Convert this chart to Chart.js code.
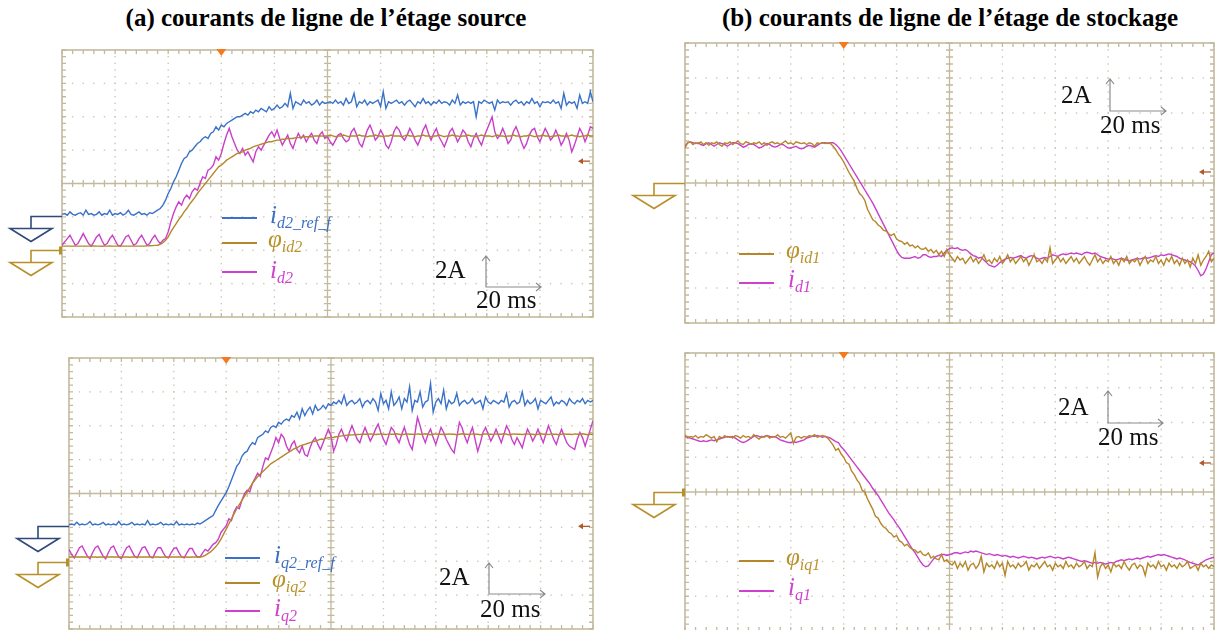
<!DOCTYPE html>
<html>
<head>
<meta charset="utf-8">
<script src="https://cdn.jsdelivr.net/npm/chart.js@4.4.1/dist/chart.umd.min.js"></script>
<style>
  html, body { margin:0; padding:0; background:#fff; }
  body { position:relative; width:1215px; height:630px; overflow:hidden; font-family:"Liberation Serif","Times New Roman",serif; }
  canvas { position:absolute; }
  .title { position:absolute; width:640px; text-align:center; font-weight:bold; font-size:25px; line-height:25px; color:#000; white-space:nowrap; }
  .scale { position:absolute; font-size:25px; line-height:24px; color:#111; white-space:nowrap; }
  .lab { position:absolute; font-style:italic; font-size:25px; line-height:25px; white-space:nowrap; }
  .lab sub { font-size:16px; vertical-align:-5px; line-height:0; }
  .lline { position:absolute; height:1.6px; }
  svg.ov { position:absolute; left:0; top:0; }
</style>
</head>
<body>

<div class="title" style="left:6px;top:5px;">(a) courants de ligne de l’étage source</div>
<div class="title" style="left:630px;top:5px;">(b) courants de ligne de l’étage de stockage</div>

<canvas id="cA" width="605" height="289" style="left:0px;top:38px;"></canvas>
<canvas id="cB" width="590" height="302" style="left:625px;top:31px;"></canvas>
<canvas id="cC" width="605" height="293" style="left:0px;top:346px;"></canvas>
<canvas id="cD" width="590" height="300" style="left:625px;top:341px;"></canvas>

<svg class="ov" width="1215" height="630" viewBox="0 0 1215 630">
  <g fill="none" stroke="#8c8c8c" stroke-width="1.2">
    <path d="M486,256 L486,287 L541,287 M482,261 L486,256 L490,261 M536,283 L541,287 L536,291"/>
    <path d="M1110,79 L1110,111 L1166,111 M1106,84 L1110,79 L1114,84 M1161,107 L1166,111 L1161,115"/>
    <path d="M489,563 L489,594 L545,594 M485,568 L489,563 L493,568 M540,590 L545,594 L540,598"/>
    <path d="M1108,391 L1108,423 L1163,423 M1104,396 L1108,391 L1112,396 M1158,419 L1163,423 L1158,427"/>
  </g>
</svg>

<div class="scale" style="left:435px;top:258px;">2A</div>
<div class="scale" style="left:476px;top:288px;">20 ms</div>
<div class="scale" style="left:1061px;top:83px;">2A</div>
<div class="scale" style="left:1100px;top:113px;">20 ms</div>
<div class="scale" style="left:439px;top:565px;">2A</div>
<div class="scale" style="left:480px;top:597px;">20 ms</div>
<div class="scale" style="left:1058px;top:395px;">2A</div>
<div class="scale" style="left:1098px;top:425px;">20 ms</div>

<!-- legends -->
<div class="lline" style="left:222px;top:217px;width:35px;background:#3a72c8;"></div>
<div class="lab" style="left:270px;top:202px;color:#3d6fc0;">i<sub>d2_ref_f</sub></div>
<div class="lline" style="left:222px;top:242px;width:35px;background:#b5872a;"></div>
<div class="lab" style="left:268px;top:226px;color:#b8922a;">φ<sub>id2</sub></div>
<div class="lline" style="left:222px;top:271px;width:35px;background:#d040d0;"></div>
<div class="lab" style="left:270px;top:257px;color:#d040d0;">i<sub>d2</sub></div>

<div class="lline" style="left:739px;top:253px;width:35px;background:#b5872a;"></div>
<div class="lab" style="left:786px;top:237px;color:#b8922a;">φ<sub>id1</sub></div>
<div class="lline" style="left:739px;top:282px;width:35px;background:#d040d0;"></div>
<div class="lab" style="left:788px;top:266px;color:#d040d0;">i<sub>d1</sub></div>

<div class="lline" style="left:225px;top:557px;width:35px;background:#3a72c8;"></div>
<div class="lab" style="left:274px;top:542px;color:#3d6fc0;">i<sub>q2_ref_f</sub></div>
<div class="lline" style="left:225px;top:582px;width:35px;background:#b5872a;"></div>
<div class="lab" style="left:272px;top:566px;color:#b8922a;">φ<sub>iq2</sub></div>
<div class="lline" style="left:225px;top:610px;width:35px;background:#d040d0;"></div>
<div class="lab" style="left:274px;top:595px;color:#d040d0;">i<sub>q2</sub></div>

<div class="lline" style="left:739px;top:560px;width:35px;background:#b5872a;"></div>
<div class="lab" style="left:786px;top:544px;color:#b8922a;">φ<sub>iq1</sub></div>
<div class="lline" style="left:739px;top:590px;width:35px;background:#d040d0;"></div>
<div class="lab" style="left:788px;top:574px;color:#d040d0;">i<sub>q1</sub></div>

<script>
// ---------- axis definition (oscilloscope: 20 ms/div, 2 A/div) ----------
const X_TICKS_MS = [0, 20, 40, 60, 80, 100, 120, 140, 160, 180, 200];
const Y_TICKS_A  = [-8, -6, -4, -2, 0, 2, 4, 6, 8];
const SAMPLE_STEP_MS = 1;          // one sample per ms, 0..200 ms
const TRIGGER_MS = 60;

// ---------- (a) top : d-axis currents, source stage (A) ----------
const A_ID2_REF = [
 -1.85,-1.8,-1.9,-1.7,-1.85,-1.9,-1.8,-1.75,-1.9,-1.6,
 -1.85,-1.8,-1.9,-1.85,-1.7,-1.9,-1.8,-1.85,-1.6,-1.9,
 -1.8,-1.85,-1.75,-1.9,-1.8,-1.6,-1.85,-1.9,-1.8,-1.7,
 -1.85,-1.8,-1.9,-1.75,-1.8,-1.7,-1.6,-1.5,-1.3,-1.0,
 -0.6,-0.3,0.1,0.4,0.8,1.2,1.5,1.6,1.9,2.0,
 2.2,2.4,2.5,2.7,2.8,2.7,3.0,3.1,3.4,3.2,
 3.5,3.4,3.6,3.7,3.8,3.9,4.0,4.0,4.1,4.2,
 4.1,4.3,4.2,4.4,4.3,4.5,4.4,4.3,4.6,4.4,
 4.5,4.7,4.5,4.6,4.8,4.6,5.4,4.5,4.9,4.8,
 4.7,5.0,4.8,4.9,4.7,4.8,5.0,4.7,4.9,4.8,
 4.85,4.9,4.8,5.0,4.8,4.9,4.7,5.1,4.8,4.9,
 5.4,4.6,4.9,4.8,5.0,4.7,4.9,4.8,4.9,5.0,
 4.6,5.5,4.5,4.9,4.8,4.9,5.0,4.8,4.9,4.7,
 4.9,5.0,4.8,4.6,4.9,4.8,5.1,4.8,4.9,4.7,
 4.9,4.8,5.0,4.8,4.9,4.85,4.7,5.0,4.8,5.3,
 4.7,4.9,4.8,4.9,4.8,4.9,4.0,4.9,4.8,5.0,
 4.9,4.8,4.9,4.4,5.0,4.8,4.9,4.85,4.9,4.7,
 4.9,5.0,4.8,4.9,4.7,4.9,4.8,5.1,4.8,4.9,
 4.6,4.9,4.85,4.9,4.8,5.0,4.8,4.9,4.5,5.4,
 4.7,4.9,4.8,4.9,4.5,5.3,4.8,4.9,4.8,5.5,
 4.9];
const A_PHI_ID2 = [
 -3.75,-3.75,-3.75,-3.75,-3.75,-3.75,-3.75,-3.75,-3.75,-3.75,
 -3.75,-3.75,-3.74,-3.75,-3.75,-3.76,-3.75,-3.75,-3.74,-3.75,
 -3.75,-3.75,-3.75,-3.75,-3.75,-3.75,-3.75,-3.75,-3.75,-3.75,
 -3.75,-3.75,-3.74,-3.73,-3.72,-3.71,-3.7,-3.65,-3.55,-3.4,
 -3.2,-2.9,-2.65,-2.4,-2.15,-1.95,-1.7,-1.5,-1.25,-1.05,
 -0.85,-0.6,-0.4,-0.2,0.0,0.2,0.4,0.6,0.8,1.0,
 1.1,1.25,1.4,1.5,1.6,1.7,1.8,1.85,1.9,2.0,
 2.05,2.1,2.2,2.25,2.3,2.35,2.4,2.45,2.5,2.5,
 2.55,2.6,2.6,2.65,2.65,2.7,2.7,2.7,2.75,2.75,
 2.75,2.8,2.8,2.8,2.8,2.85,2.85,2.85,2.85,2.85,
 2.85,2.9,2.85,2.8,2.85,2.85,2.9,2.85,2.8,2.85,
 2.85,2.85,2.9,2.85,2.85,2.8,2.85,2.85,2.9,2.85,
 2.85,2.8,2.85,2.85,2.9,2.85,2.85,2.85,2.8,2.85,
 2.9,2.85,2.85,2.8,2.85,2.85,2.9,2.85,2.85,2.8,
 2.85,2.85,2.9,2.85,2.8,2.85,2.85,2.9,2.85,2.85,
 2.8,2.85,2.85,2.9,2.85,2.85,2.8,2.85,2.9,2.85,
 2.85,2.85,2.8,2.85,2.9,2.85,2.85,2.8,2.85,2.85,
 2.9,2.85,2.85,2.8,2.85,2.85,2.9,2.85,2.8,2.85,
 2.85,2.9,2.85,2.85,2.8,2.85,2.85,2.9,2.85,2.85,
 2.8,2.85,2.9,2.85,2.85,2.8,2.85,2.85,2.9,2.85,
 2.85];
const A_ID2 = [
 -3.7,-3.5,-3.3,-3.1,-3.4,-3.7,-3.6,-3.3,-3.0,-3.3,
 -3.6,-3.75,-3.5,-3.2,-3.05,-3.4,-3.7,-3.6,-3.3,-3.1,
 -3.4,-3.7,-3.75,-3.5,-3.2,-3.1,-3.4,-3.7,-3.6,-3.3,
 -3.1,-3.4,-3.7,-3.6,-3.3,-3.1,-3.4,-3.6,-3.4,-3.3,
 -2.9,-2.3,-1.8,-1.4,-1.1,-1.3,-0.9,-0.7,-0.9,-0.5,
 -0.3,-0.4,0.0,0.4,0.3,0.8,0.9,1.1,1.6,1.4,
 1.8,2.4,2.9,3.3,2.8,2.4,2.0,1.8,2.1,1.7,
 1.9,1.6,1.3,1.9,2.2,2.0,2.3,2.6,2.9,3.1,
 2.8,3.2,2.7,2.3,2.6,2.9,2.4,2.1,2.6,3.0,
 2.7,2.9,2.5,2.8,3.0,2.6,2.4,2.9,3.1,2.7,
 2.8,2.5,2.3,2.6,2.9,3.0,2.7,2.5,2.6,3.1,
 3.3,2.9,2.4,2.2,2.7,3.2,3.5,3.1,2.6,2.8,
 3.2,2.9,2.3,2.1,2.5,3.1,3.4,3.2,2.8,2.6,
 2.9,3.3,3.0,2.6,2.3,2.7,3.2,3.5,3.0,2.6,
 3.0,3.3,2.8,2.5,2.2,2.6,3.1,3.3,2.9,2.5,
 2.8,3.2,3.0,2.5,2.2,2.7,3.0,2.6,2.3,2.8,
 3.2,3.6,4.0,3.1,2.7,2.9,3.3,2.9,2.4,2.6,
 3.1,3.4,3.0,2.5,2.1,2.4,2.9,3.2,3.3,2.8,
 2.5,2.9,3.3,3.0,2.6,2.8,3.2,2.8,2.3,2.6,
 3.0,2.6,1.9,2.3,2.8,3.3,3.0,2.5,2.9,3.4,
 3.3];

// ---------- (b) top : d-axis currents, storage stage (A) ----------
const B_PHI_ID1 = [
 2.0,2.3,2.35,2.2,2.3,2.25,2.35,2.2,2.3,2.15,
 2.3,2.25,2.35,2.2,2.1,2.3,2.25,2.35,2.2,2.3,
 2.4,2.25,2.2,2.35,2.3,2.2,2.3,2.25,2.35,2.2,
 2.3,2.15,2.3,2.35,2.25,2.3,2.2,2.3,2.4,2.25,
 2.3,2.2,2.35,2.3,2.25,2.3,2.2,2.3,2.25,2.1,
 2.3,2.25,2.3,2.25,2.3,2.25,2.1,1.9,1.65,1.45,
 1.2,0.9,0.6,0.35,0.1,-0.3,-0.6,-0.75,-1.0,-1.5,
 -1.8,-2.1,-2.2,-2.4,-2.5,-2.7,-2.75,-2.9,-3.0,-2.9,
 -3.2,-3.3,-3.35,-3.5,-3.4,-3.6,-3.55,-3.7,-3.6,-3.75,
 -3.8,-3.7,-3.9,-3.8,-4.0,-3.85,-4.1,-3.9,-4.2,-3.8,
 -4.1,-4.3,-4.5,-4.2,-4.4,-4.3,-4.6,-4.4,-4.2,-4.5,
 -4.3,-4.6,-4.4,-4.1,-4.5,-4.4,-4.6,-4.3,-4.5,-4.2,
 -4.6,-4.4,-4.1,-4.5,-4.3,-4.6,-4.4,-4.2,-4.5,-4.3,
 -4.7,-4.4,-4.1,-4.5,-4.4,-4.6,-4.3,-4.5,-3.7,-4.6,
 -4.4,-4.2,-4.5,-4.3,-4.6,-4.4,-4.2,-4.5,-4.3,-4.6,
 -4.4,-4.2,-4.5,-4.7,-4.4,-4.1,-4.5,-4.3,-4.6,-4.4,
 -4.5,-4.2,-4.6,-4.4,-4.7,-4.3,-4.5,-4.2,-4.6,-4.4,
 -4.5,-4.3,-4.7,-4.4,-4.2,-4.6,-4.4,-4.5,-4.2,-4.6,
 -4.4,-4.7,-4.3,-4.5,-4.2,-4.6,-4.4,-4.7,-4.3,-4.6,
 -4.4,-4.8,-4.3,-4.6,-4.1,-4.7,-4.4,-4.2,-3.9,-4.5,
 -4.3];
const B_ID1 = [
 2.1,2.3,2.35,2.3,2.25,2.3,2.2,2.15,2.25,2.3,
 2.2,2.1,2.2,2.3,2.25,2.2,2.1,2.2,2.3,2.3,
 2.25,2.15,2.05,2.1,2.2,2.25,2.2,2.1,2.0,2.05,
 2.15,2.25,2.2,2.1,2.05,2.1,2.2,2.2,2.1,2.0,
 2.0,2.05,2.1,2.0,1.95,2.0,2.1,2.15,2.1,2.05,
 2.15,2.25,2.3,2.3,2.25,2.3,2.3,2.2,2.05,1.85,
 1.6,1.35,1.1,0.85,0.6,0.35,0.1,-0.15,-0.4,-0.65,
 -0.9,-1.15,-1.45,-1.75,-2.05,-2.35,-2.65,-2.95,-3.25,-3.55,
 -3.85,-4.1,-4.25,-4.3,-4.3,-4.3,-4.25,-4.2,-4.3,-4.25,
 -4.1,-4.1,-4.2,-4.25,-4.2,-4.2,-4.15,-4.2,-4.0,-3.85,
 -3.75,-3.7,-3.75,-3.7,-3.8,-3.85,-3.8,-3.9,-4.05,-4.15,
 -4.2,-4.3,-4.25,-4.4,-4.55,-4.7,-4.75,-4.8,-4.7,-4.55,
 -4.45,-4.35,-4.3,-4.25,-4.3,-4.25,-4.2,-4.15,-4.25,-4.3,
 -4.2,-4.15,-4.2,-4.3,-4.35,-4.3,-4.25,-4.3,-4.2,-4.1,
 -4.15,-4.2,-4.1,-4.05,-4.1,-4.05,-4.0,-4.05,-4.0,-4.05,
 -4.1,-4.0,-3.95,-4.0,-4.05,-4.0,-4.1,-4.2,-4.25,-4.3,
 -4.35,-4.3,-4.35,-4.4,-4.35,-4.3,-4.35,-4.4,-4.45,-4.4,
 -4.35,-4.3,-4.35,-4.3,-4.25,-4.3,-4.25,-4.2,-4.15,-4.2,
 -4.1,-4.15,-4.1,-4.05,-4.1,-4.15,-4.2,-4.3,-4.35,-4.4,
 -4.45,-4.5,-4.6,-4.75,-5.0,-5.3,-5.2,-4.9,-4.5,-4.1,
 -4.0];

// ---------- (a) bottom : q-axis currents, source stage (A) ----------
const C_IQ2_REF = [
 -1.85,-1.8,-1.85,-1.7,-1.85,-1.8,-1.85,-1.8,-1.65,-1.85,
 -1.8,-1.85,-1.8,-1.7,-1.85,-1.8,-1.85,-1.8,-1.85,-1.65,
 -1.85,-1.8,-1.85,-1.8,-1.7,-1.85,-1.8,-1.85,-1.8,-1.85,
 -1.6,-1.85,-1.8,-1.85,-1.8,-1.7,-1.85,-1.8,-1.85,-1.8,
 -1.85,-1.65,-1.85,-1.8,-1.85,-1.8,-1.85,-1.8,-1.85,-1.75,
 -1.8,-1.7,-1.6,-1.5,-1.4,-1.3,-1.0,-0.7,-0.45,-0.2,
 0.05,0.4,0.8,1.2,1.6,1.8,2.2,2.4,2.5,2.8,
 3.0,2.9,3.3,3.4,3.5,3.7,3.6,3.9,4.0,3.9,
 4.2,4.1,4.3,4.4,4.3,4.6,4.5,4.8,4.4,5.0,
 4.6,4.9,5.1,4.7,5.2,4.9,5.0,5.2,5.0,5.3,
 5.2,5.4,5.3,5.5,5.3,5.8,5.2,5.4,5.5,5.3,
 5.4,5.6,5.1,5.4,5.5,5.3,5.6,5.4,4.9,5.9,
 5.3,5.5,5.0,6.0,5.2,5.4,5.7,5.0,5.6,5.4,
 6.3,4.9,5.5,5.4,6.0,5.1,5.4,5.5,6.5,4.8,
 5.4,5.6,5.3,6.1,5.0,5.5,5.3,5.4,5.9,5.2,
 5.4,5.5,5.3,5.4,5.6,5.3,5.4,5.5,5.0,5.7,
 5.4,5.3,5.5,5.4,5.3,5.5,5.4,5.9,5.1,5.4,
 5.5,5.3,5.4,6.0,5.2,5.5,5.3,5.4,5.6,5.0,
 5.5,5.4,5.3,5.5,5.7,5.2,5.4,5.3,5.5,5.4,
 5.2,5.6,5.4,5.3,5.5,5.4,5.6,5.3,5.5,5.4,
 5.5];
const C_PHI_IQ2 = [
 -3.75,-3.75,-3.75,-3.75,-3.74,-3.75,-3.75,-3.75,-3.75,-3.75,
 -3.75,-3.76,-3.75,-3.75,-3.75,-3.75,-3.74,-3.75,-3.75,-3.75,
 -3.75,-3.75,-3.75,-3.76,-3.75,-3.75,-3.75,-3.75,-3.74,-3.75,
 -3.75,-3.75,-3.75,-3.75,-3.75,-3.76,-3.75,-3.75,-3.75,-3.75,
 -3.74,-3.75,-3.75,-3.75,-3.75,-3.75,-3.76,-3.75,-3.75,-3.75,
 -3.75,-3.72,-3.65,-3.55,-3.45,-3.3,-3.15,-2.95,-2.7,-2.4,
 -2.1,-1.8,-1.5,-1.2,-0.9,-0.65,-0.4,-0.15,0.1,0.35,
 0.6,0.8,1.0,1.15,1.3,1.45,1.6,1.75,1.85,1.95,
 2.05,2.15,2.25,2.35,2.45,2.55,2.65,2.7,2.8,2.85,
 2.9,2.95,3.0,3.05,3.1,3.15,3.2,3.2,3.25,3.3,
 3.3,3.32,3.35,3.37,3.4,3.42,3.44,3.45,3.46,3.47,
 3.48,3.49,3.5,3.5,3.5,3.52,3.5,3.48,3.5,3.52,
 3.5,3.48,3.52,3.5,3.5,3.53,3.5,3.47,3.5,3.52,
 3.5,3.5,3.48,3.52,3.5,3.5,3.53,3.5,3.47,3.5,
 3.52,3.5,3.5,3.48,3.5,3.52,3.5,3.5,3.47,3.5,
 3.53,3.5,3.5,3.48,3.52,3.5,3.5,3.47,3.5,3.52,
 3.5,3.5,3.48,3.52,3.5,3.5,3.53,3.5,3.47,3.5,
 3.52,3.5,3.5,3.48,3.5,3.52,3.5,3.5,3.47,3.5,
 3.53,3.5,3.5,3.48,3.52,3.5,3.5,3.47,3.5,3.52,
 3.5,3.5,3.48,3.52,3.5,3.5,3.53,3.5,3.47,3.5,
 3.5];
const C_IQ2 = [
 -3.3,-3.6,-3.8,-3.5,-3.2,-3.1,-3.4,-3.7,-3.85,-3.5,
 -3.2,-3.1,-3.4,-3.7,-3.85,-3.5,-3.2,-3.1,-3.45,-3.75,
 -3.85,-3.5,-3.2,-3.1,-3.4,-3.7,-3.8,-3.5,-3.2,-3.15,
 -3.45,-3.75,-3.8,-3.45,-3.2,-3.2,-3.5,-3.75,-3.8,-3.5,
 -3.25,-3.2,-3.5,-3.75,-3.8,-3.5,-3.25,-3.25,-3.55,-3.75,
 -3.75,-3.5,-3.3,-3.4,-3.2,-3.0,-2.9,-2.7,-2.3,-2.1,
 -1.9,-1.5,-1.6,-1.1,-0.8,-0.9,-0.4,0.0,0.2,0.1,
 0.6,0.9,1.2,1.0,1.6,2.1,2.0,2.4,2.8,3.3,
 3.0,3.5,3.3,2.8,2.5,2.9,3.1,2.6,2.4,2.8,
 2.3,2.2,2.7,3.1,3.3,2.9,2.6,3.0,3.4,3.8,
 3.4,2.5,2.9,3.5,3.8,3.4,3.1,3.6,4.0,3.6,
 3.2,3.0,3.5,3.9,3.5,3.1,3.4,3.8,4.1,3.6,
 3.2,2.9,3.4,3.9,3.7,3.3,3.0,3.5,3.9,3.4,
 2.9,2.6,3.5,4.5,4.0,3.4,3.0,3.5,3.8,3.3,
 2.9,3.4,3.9,3.6,3.2,2.9,2.6,2.4,3.3,4.2,
 3.9,3.4,3.0,3.5,3.9,3.2,2.5,3.0,3.6,3.9,
 3.5,3.1,3.4,3.8,3.4,3.0,3.5,4.0,3.7,3.2,
 2.9,3.3,3.0,2.7,3.3,3.8,3.5,3.1,3.4,3.8,
 3.4,3.0,3.5,4.0,3.6,3.2,2.9,3.4,3.8,3.4,
 3.0,2.8,2.7,2.6,3.2,3.6,3.3,2.8,3.3,3.8,
 4.3];

// ---------- (b) bottom : q-axis currents, storage stage (A) ----------
const D_PHI_IQ1 = [
 3.3,3.1,3.2,3.15,3.25,3.1,3.2,3.15,3.3,3.2,
 3.1,3.2,2.9,3.2,3.1,3.25,3.15,3.2,3.1,3.25,
 3.2,3.1,3.25,3.15,3.2,3.1,3.3,3.15,3.05,3.2,
 3.15,3.25,3.1,3.2,3.15,3.3,3.15,3.2,3.1,3.25,
 3.4,2.8,3.15,3.2,3.1,3.2,3.15,3.25,3.2,3.3,
 3.15,3.2,3.25,3.2,3.1,2.9,2.7,2.4,2.5,2.2,
 2.0,1.7,1.6,1.2,1.0,0.7,0.5,0.1,0.0,-0.4,
 -0.7,-1.0,-1.4,-1.5,-1.8,-2.0,-2.1,-2.3,-2.4,-2.6,
 -2.5,-2.8,-2.9,-3.1,-3.0,-3.2,-3.3,-3.35,-3.5,-3.4,
 -3.6,-3.65,-3.5,-3.8,-3.7,-3.85,-3.9,-3.6,-4.0,-3.9,
 -4.1,-4.2,-4.0,-4.4,-4.1,-4.3,-4.0,-4.5,-4.2,-4.1,
 -4.4,-4.2,-3.7,-4.6,-4.1,-4.3,-4.2,-4.4,-4.0,-4.3,
 -4.1,-4.8,-4.0,-4.3,-4.2,-4.4,-4.1,-4.3,-4.2,-4.0,
 -4.5,-4.2,-4.3,-4.1,-4.4,-4.2,-4.0,-4.3,-4.2,-4.5,
 -4.1,-4.3,-4.2,-4.4,-4.0,-4.3,-4.2,-4.4,-4.1,-4.3,
 -4.2,-4.0,-4.4,-4.2,-4.3,-3.5,-4.9,-4.3,-4.1,-4.4,
 -4.2,-4.6,-4.1,-4.3,-4.2,-4.4,-4.0,-4.3,-4.5,-4.2,
 -4.1,-4.4,-4.2,-4.3,-4.8,-4.1,-4.3,-4.2,-4.4,-4.0,
 -4.3,-4.2,-4.5,-4.1,-4.3,-4.2,-4.4,-4.1,-4.3,-4.2,
 -4.0,-4.4,-4.3,-4.2,-4.5,-4.1,-4.3,-4.2,-4.4,-4.2,
 -4.3];
const D_IQ1 = [
 3.2,3.15,3.1,3.05,3.0,2.95,2.9,2.95,2.9,2.95,
 3.0,2.95,3.0,3.05,3.1,3.15,3.2,3.15,3.2,3.1,
 3.0,2.9,2.85,2.9,3.0,3.1,3.2,3.25,3.2,3.15,
 3.2,3.25,3.2,3.15,3.2,3.1,3.0,2.95,2.9,2.85,
 2.85,2.9,2.85,2.9,2.95,3.0,3.1,3.15,3.2,3.2,
 3.25,3.2,3.15,3.2,3.15,3.1,3.0,2.9,2.85,2.6,
 2.45,2.25,2.05,1.85,1.65,1.45,1.25,1.05,0.85,0.65,
 0.45,0.2,0.0,-0.2,-0.45,-0.7,-0.95,-1.2,-1.4,-1.6,
 -1.85,-2.05,-2.3,-2.55,-2.8,-3.05,-3.3,-3.5,-3.75,-4.0,
 -4.2,-4.3,-4.25,-4.05,-3.85,-3.7,-3.65,-3.6,-3.6,-3.65,
 -3.6,-3.55,-3.5,-3.5,-3.55,-3.5,-3.45,-3.5,-3.4,-3.45,
 -3.4,-3.45,-3.5,-3.55,-3.6,-3.55,-3.6,-3.65,-3.6,-3.65,
 -3.7,-3.65,-3.7,-3.75,-3.7,-3.75,-3.8,-3.75,-3.7,-3.75,
 -3.8,-3.75,-3.8,-3.85,-3.8,-3.75,-3.8,-3.75,-3.7,-3.75,
 -3.8,-3.75,-3.8,-3.85,-3.8,-3.75,-3.8,-3.85,-3.9,-3.95,
 -4.0,-3.95,-4.0,-4.05,-4.1,-4.05,-4.1,-4.05,-4.1,-4.15,
 -4.1,-4.05,-4.1,-4.0,-3.95,-3.9,-3.95,-3.9,-3.85,-3.9,
 -3.85,-3.8,-3.85,-3.8,-3.75,-3.7,-3.75,-3.7,-3.65,-3.6,
 -3.65,-3.6,-3.65,-3.7,-3.75,-3.8,-3.85,-3.8,-3.85,-3.9,
 -4.0,-4.05,-4.1,-4.15,-4.2,-4.1,-4.0,-3.9,-3.85,-3.8,
 -3.75];

// channel ground (zero) levels and trigger levels, in A on each screen
const A_GROUNDS = [-1.95, -4.0];   // blue ref channel, gold channel
const B_GROUNDS = [0];
const C_GROUNDS = [-1.94, -4.06];
const D_GROUNDS = [0];
const TRIG_LEVELS = [1.34, 0.63, -1.94, 1.67];

// ---------- styles ----------
const COL_BLUE = '#3a72c8', COL_GOLD = '#b5872a', COL_MAG = '#c93fc9';
const GND_BLUE = '#2f4a78', GND_GOLD = '#b8902a';

const minorX = (X_TICKS_MS[1] - X_TICKS_MS[0]) / 5;
const minorY = (Y_TICKS_A[1] - Y_TICKS_A[0]) / 5;
const xMin = X_TICKS_MS[0], xMax = X_TICKS_MS[X_TICKS_MS.length - 1];
const yMin = Y_TICKS_A[0], yMax = Y_TICKS_A[Y_TICKS_A.length - 1];
const xMid = (xMin + xMax) / 2, yMid = (yMin + yMax) / 2;

const scopePlugin = {
  id: 'scope',
  beforeDatasetsDraw(chart) {
    const { ctx, chartArea: a, scales: { x, y } } = chart;
    ctx.save();
    ctx.fillStyle = '#cdc6b2';
    X_TICKS_MS.forEach(xv => {
      if (xv === xMin || xv === xMax || xv === xMid) return;
      const px = x.getPixelForValue(xv);
      for (let yv = yMin; yv <= yMax + 1e-9; yv += minorY) {
        ctx.fillRect(px - 0.7, y.getPixelForValue(yv) - 0.7, 1.4, 1.4);
      }
    });
    Y_TICKS_A.forEach(yv => {
      if (yv === yMin || yv === yMax || yv === yMid) return;
      const py = y.getPixelForValue(yv);
      for (let xv = xMin; xv <= xMax + 1e-9; xv += minorX) {
        ctx.fillRect(x.getPixelForValue(xv) - 0.7, py - 0.7, 1.4, 1.4);
      }
    });
    ctx.strokeStyle = '#c3b99d';
    ctx.lineWidth = 1.3;
    const cx = x.getPixelForValue(xMid), cy = y.getPixelForValue(yMid);
    ctx.beginPath();
    ctx.moveTo(cx, a.top); ctx.lineTo(cx, a.bottom);
    ctx.moveTo(a.left, cy); ctx.lineTo(a.right, cy);
    for (let xv = xMin; xv <= xMax + 1e-9; xv += minorX) {
      const px = x.getPixelForValue(xv);
      ctx.moveTo(px, cy - 3.5); ctx.lineTo(px, cy + 3.5);
      ctx.moveTo(px, a.top); ctx.lineTo(px, a.top + 4);
      ctx.moveTo(px, a.bottom); ctx.lineTo(px, a.bottom - 4);
    }
    for (let yv = yMin; yv <= yMax + 1e-9; yv += minorY) {
      const py = y.getPixelForValue(yv);
      ctx.moveTo(cx - 3.5, py); ctx.lineTo(cx + 3.5, py);
      ctx.moveTo(a.left, py); ctx.lineTo(a.left + 4, py);
      ctx.moveTo(a.right, py); ctx.lineTo(a.right - 4, py);
    }
    ctx.stroke();
    ctx.lineWidth = 1.6;
    ctx.strokeRect(a.left, a.top, a.right - a.left, a.bottom - a.top);
    ctx.restore();
  },
  afterDraw(chart, args, opts) {
    const { ctx, chartArea: a, scales: { x, y } } = chart;
    ctx.save();
    (opts.grounds || []).forEach(g => {
      const py = Math.round(y.getPixelForValue(g.level)) + 0.5;
      const sx = a.left - 31;
      ctx.strokeStyle = g.color; ctx.lineWidth = 1.6;
      ctx.beginPath();
      ctx.moveTo(a.left, py); ctx.lineTo(sx, py); ctx.lineTo(sx, py + 12);
      ctx.moveTo(sx - 21, py + 12); ctx.lineTo(sx + 21, py + 12); ctx.lineTo(sx, py + 25); ctx.closePath();
      ctx.stroke();
      if (g.cap) { ctx.fillStyle = g.color; ctx.fillRect(a.left - 3, py - 4, 3, 8); }
    });
    const tx = x.getPixelForValue(opts.trigTime);
    ctx.fillStyle = '#f47a1f';
    ctx.beginPath();
    ctx.moveTo(tx - 5, a.top - 1); ctx.lineTo(tx + 5, a.top - 1); ctx.lineTo(tx, a.top + 6); ctx.closePath();
    ctx.fill();
    const ty = y.getPixelForValue(opts.trigLevel);
    ctx.strokeStyle = '#b05a2c'; ctx.fillStyle = '#b05a2c'; ctx.lineWidth = 1.3;
    ctx.beginPath(); ctx.moveTo(a.right - 13, ty); ctx.lineTo(a.right - 3, ty); ctx.stroke();
    ctx.beginPath(); ctx.moveTo(a.right - 15, ty); ctx.lineTo(a.right - 10, ty - 3); ctx.lineTo(a.right - 10, ty + 3); ctx.closePath(); ctx.fill();
    ctx.restore();
  }
};

function toXY(values) {
  return values.map((v, i) => ({ x: xMin + i * SAMPLE_STEP_MS, y: v }));
}

function makeScope(id, padding, series, grounds, trigLevel) {
  new Chart(document.getElementById(id), {
    type: 'line',
    data: {
      datasets: series.map(s => ({
        label: s.label, data: toXY(s.values), borderColor: s.color, order: s.order,
        borderWidth: 1.4, pointRadius: 0, tension: 0, fill: false
      }))
    },
    options: {
      responsive: false, animation: false, events: [],
      layout: { padding },
      plugins: { legend: { display: false }, tooltip: { enabled: false },
                 scope: { grounds, trigTime: TRIGGER_MS, trigLevel } },
      scales: {
        x: { type: 'linear', min: xMin, max: xMax, display: false },
        y: { type: 'linear', min: yMin, max: yMax, display: false }
      }
    },
    plugins: [scopePlugin]
  });
}

makeScope('cA', { left: 62, top: 12, right: 12, bottom: 10 }, [
  { label: 'i_d2_ref_f', values: A_ID2_REF, color: COL_BLUE, order: 2 },
  { label: 'i_d2', values: A_ID2, color: COL_MAG, order: 1 },
  { label: 'φ_id2', values: A_PHI_ID2, color: COL_GOLD, order: 0 }
], [{ level: A_GROUNDS[0], color: GND_BLUE }, { level: A_GROUNDS[1], color: GND_GOLD, cap: true }], TRIG_LEVELS[0]);

makeScope('cB', { left: 60, top: 12, right: 1, bottom: 10 }, [
  { label: 'i_d1', values: B_ID1, color: COL_MAG, order: 1 },
  { label: 'φ_id1', values: B_PHI_ID1, color: COL_GOLD, order: 0 }
], [{ level: B_GROUNDS[0], color: GND_GOLD }], TRIG_LEVELS[1]);

makeScope('cC', { left: 69, top: 12, right: 12, bottom: 10 }, [
  { label: 'i_q2_ref_f', values: C_IQ2_REF, color: COL_BLUE, order: 2 },
  { label: 'i_q2', values: C_IQ2, color: COL_MAG, order: 1 },
  { label: 'φ_iq2', values: C_PHI_IQ2, color: COL_GOLD, order: 0 }
], [{ level: C_GROUNDS[0], color: GND_BLUE }, { level: C_GROUNDS[1], color: GND_GOLD, cap: true }], TRIG_LEVELS[2]);

makeScope('cD', { left: 60, top: 12, right: 1, bottom: 10 }, [
  { label: 'i_q1', values: D_IQ1, color: COL_MAG, order: 1 },
  { label: 'φ_iq1', values: D_PHI_IQ1, color: COL_GOLD, order: 0 }
], [{ level: D_GROUNDS[0], color: GND_GOLD, cap: true }], TRIG_LEVELS[3]);
</script>
</body>
</html>
